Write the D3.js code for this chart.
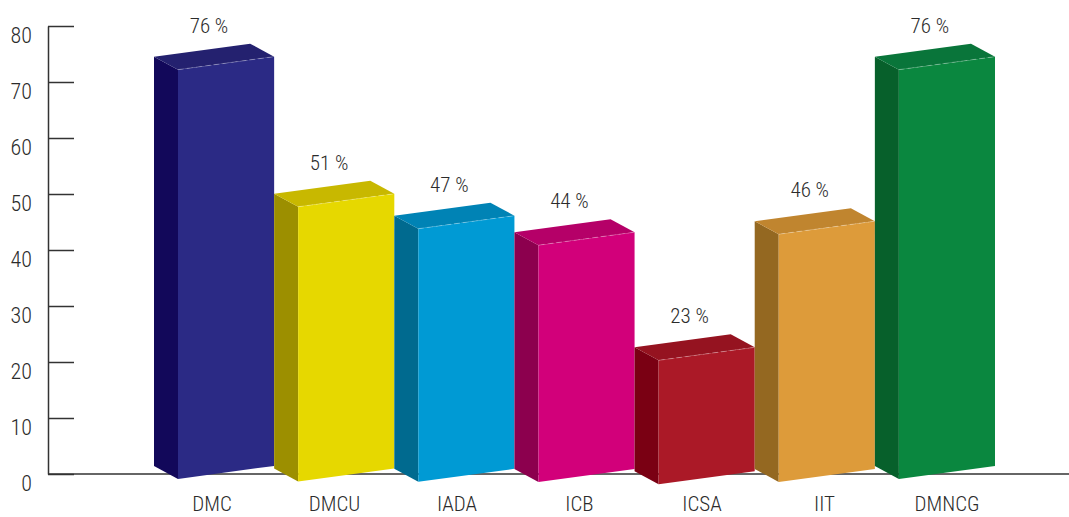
<!DOCTYPE html>
<html>
<head>
<meta charset="utf-8">
<script src="https://cdn.jsdelivr.net/npm/d3@7"></script>
<style>
  html, body { margin: 0; padding: 0; background: #fff; }
  svg text { font-family: "Roboto", sans-serif; font-stretch: condensed; font-weight: 300; fill: #2b2b2b; }
</style>
</head>
<body>
<svg width="1069" height="517"></svg>
<script>
var categories = ["DMC", "DMCU", "IADA", "ICB", "ICSA", "IIT", "DMNCG"];
var values = [76, 51, 47, 44, 23, 46, 76];
var yTicks = [0, 10, 20, 30, 40, 50, 60, 70, 80];

var frontColors = ["#2b2a85", "#e6d800", "#009ad4", "#d2007a", "#ab1927", "#dd9b3a", "#0a873f"];
var sideColors = ["#12085a", "#9c8f00", "#006a8f", "#8c004e", "#7a0013", "#946821", "#07602b"];
var topColors = ["#24216f", "#c8b800", "#0083b5", "#b50068", "#951320", "#c0852f", "#09753a"];

var svg = d3.select("svg");
var width = +svg.attr("width");

var data = categories.map((c, i) => ({ cat: c, value: values[i], i: i }));

// axis scale and the (slightly perspective) bar scales
const yAxis = d3.scaleLinear().domain([0, 80]).range([474, 26]);
const yTop = d3.scaleLinear().domain([0, 80]).range([486.5, 47.7]);
const yBase = d3.scaleLinear().domain([0, 80]).range([486.5, 478.5]);

const xScale = d3.scaleBand().domain(categories).range([154, 995]).padding(0);
const labelX = d3.scalePoint().domain(categories).range([212, 947]);

const depthX = 24, depthY = 13, slope = 13;

// axis
const ax = svg.append("g")
  .attr("transform", "translate(48,0)")
  .call(d3.axisLeft(yAxis).tickValues(yTicks).tickSize(-26).tickSizeOuter(0).tickPadding(16));
ax.selectAll("path, line").attr("stroke", "#333").attr("stroke-width", 1.5);
ax.selectAll("text")
  .attr("dy", 16)
  .style("font-size", "22px")
  .attr("fill", "#2b2b2b");

svg.append("line")
  .attr("x1", 48).attr("x2", width)
  .attr("y1", yAxis(0)).attr("y2", yAxis(0))
  .attr("stroke", "#333").attr("stroke-width", 1.5);

// 3D bars
const bars = svg.append("g").selectAll("g.bar")
  .data(data)
  .enter()
  .append("g")
  .attr("class", "bar");

const pts = (arr) => arr.map((p) => p.join(",")).join(" ");

bars.each(function (d) {
  const g = d3.select(this);
  const fx = xScale(d.cat) + depthX;
  const fw = xScale.bandwidth() - depthX;
  const ty = yTop(d.value);
  const by = yBase(d.value);

  // side
  g.append("polygon")
    .attr("points", pts([[fx - depthX, ty - depthY], [fx, ty], [fx, by], [fx - depthX, by - depthY]]))
    .attr("fill", sideColors[d.i]);
  // top
  g.append("polygon")
    .attr("points", pts([[fx - depthX, ty - depthY], [fx + fw - depthX, ty - depthY - slope], [fx + fw, ty - slope], [fx, ty]]))
    .attr("fill", topColors[d.i]);
  // front
  g.append("polygon")
    .attr("points", pts([[fx, ty], [fx + fw, ty - slope], [fx + fw, by - slope], [fx, by]]))
    .attr("fill", frontColors[d.i]);
  // light edge on the front top
  g.append("line")
    .attr("x1", fx).attr("y1", ty)
    .attr("x2", fx + fw).attr("y2", ty - slope)
    .attr("stroke", "#fff").attr("stroke-opacity", 0.35)
    .attr("stroke-width", 0.8).attr("stroke-dasharray", "6,3");
});

// value labels
svg.append("g").selectAll("text")
  .data(data)
  .enter()
  .append("text")
  .attr("x", (d) => xScale(d.cat) + 55)
  .attr("y", (d) => yTop(d.value) - 37)
  .attr("text-anchor", "middle")
  .style("font-size", "21px")
  .text((d) => d.value + " %");

// category labels
svg.append("g").selectAll("text")
  .data(data)
  .enter()
  .append("text")
  .attr("x", (d) => labelX(d.cat))
  .attr("y", 511)
  .attr("text-anchor", "middle")
  .style("font-size", "21px")
  .text((d) => d.cat);
</script>
</body>
</html>
